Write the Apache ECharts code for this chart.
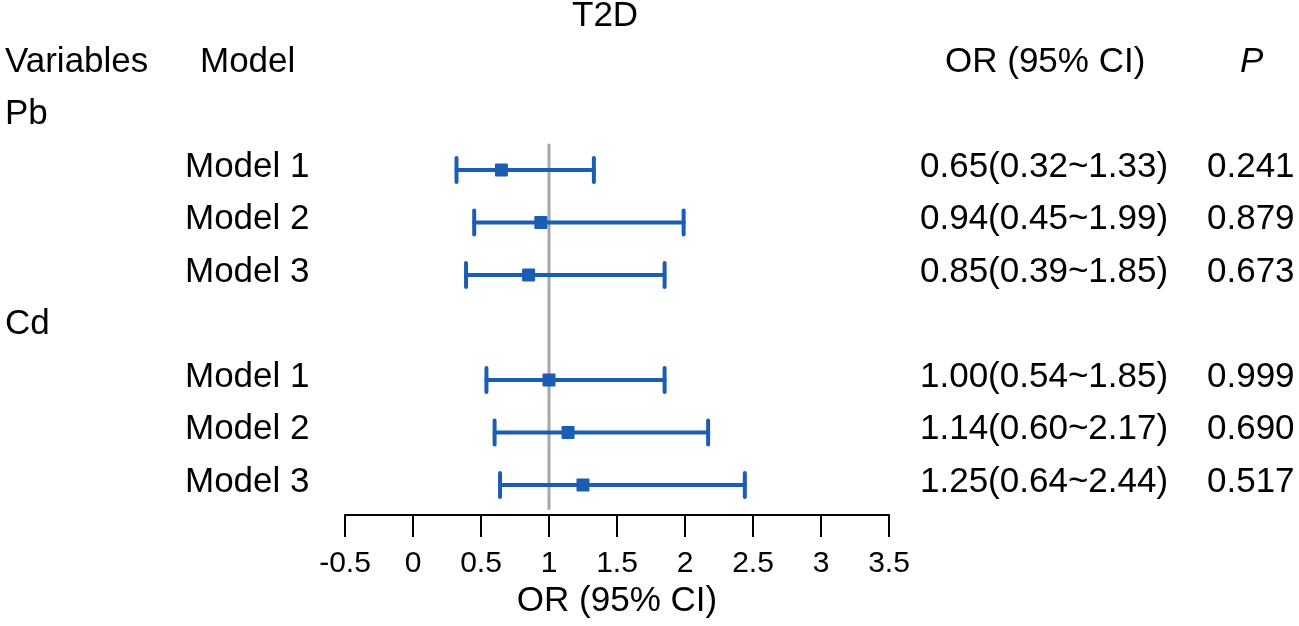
<!DOCTYPE html>
<html>
<head>
<meta charset="utf-8">
<script src="https://cdn.jsdelivr.net/npm/echarts@6/dist/echarts.min.js"></script>
<style>html,body{margin:0;padding:0;background:#fff;}#c{width:1299px;height:626px;}</style>
</head>
<body>
<div id="c"></div>
<script>
var variables = ['Pb', '', '', '', 'Cd', '', '', ''];
var models = ['', 'Model 1', 'Model 2', 'Model 3', '', 'Model 1', 'Model 2', 'Model 3'];
var orValues = [null, 0.65, 0.94, 0.85, null, 1.00, 1.14, 1.25];
var lowerCI = [null, 0.32, 0.45, 0.39, null, 0.54, 0.60, 0.64];
var upperCI = [null, 1.33, 1.99, 1.85, null, 1.85, 2.17, 2.44];
var pValues = ['', '0.241', '0.879', '0.673', '', '0.999', '0.690', '0.517'];
var xTicks = [-0.5, 0, 0.5, 1, 1.5, 2, 2.5, 3, 3.5];

var FONT = '"Liberation Sans", Arial, sans-serif';
var BLUE = '#1b5db3';

var ciData = [];
var textData = [];
for (var i = 0; i < models.length; i++) {
  var orText = orValues[i] == null ? '' :
    orValues[i].toFixed(2) + '(' + lowerCI[i].toFixed(2) + '~' + upperCI[i].toFixed(2) + ')';
  textData.push([0, i, variables[i], models[i], orText, pValues[i]]);
  if (orValues[i] != null) ciData.push([orValues[i], i, lowerCI[i], upperCI[i]]);
}
textData.push([0, -1, 'Variables', 'Model', 'OR (95% CI)', 'P']);

var chart = echarts.init(document.getElementById('c'), null, {renderer: 'canvas'});
chart.setOption({
  animation: false,
  title: {
    text: 'T2D', left: 567, top: -6,
    textStyle: {fontFamily: FONT, fontSize: 35, fontWeight: 'normal', color: '#000'}
  },
  grid: {left: 345, right: 410, top: 65, bottom: 111, containLabel: false, outerBoundsMode: 'none'},
  xAxis: {
    type: 'value', min: -0.5, max: 3.5, interval: 0.5,
    name: 'OR (95% CI)', nameLocation: 'middle', nameGap: 68,
    nameTextStyle: {fontFamily: FONT, fontSize: 35, color: '#000'},
    axisLine: {show: true, onZero: false, lineStyle: {color: '#000', width: 2}},
    axisTick: {show: true, inside: false, length: 22, lineStyle: {color: '#000', width: 2}},
    axisLabel: {fontFamily: FONT, fontSize: 30, color: '#000', margin: 34,
      formatter: function (v) { return String(v); }},
    splitLine: {show: false}
  },
  yAxis: {type: 'value', inverse: true, min: -1, max: 7.57, show: false},
  series: [
    {
      type: 'custom',
      clip: false,
      data: [[1, 0.5, 7.47]],
      renderItem: function (params, api) {
        var p1 = api.coord([api.value(0), api.value(1)]);
        var p2 = api.coord([api.value(0), api.value(2)]);
        return {type: 'line', shape: {x1: p1[0], y1: p1[1], x2: p2[0], y2: p2[1]},
          style: {stroke: '#a6a6a6', lineWidth: 3}};
      },
      z: 1
    },
    {
      type: 'custom',
      clip: false,
      data: ciData,
      renderItem: function (params, api) {
        var c = api.coord([api.value(0), api.value(1)]);
        var l = api.coord([api.value(2), api.value(1)]);
        var u = api.coord([api.value(3), api.value(1)]);
        var y = c[1], h = 12, s = 13;
        var st = {stroke: BLUE, lineWidth: 4, lineCap: 'round'};
        return {type: 'group', children: [
          {type: 'line', shape: {x1: l[0], y1: y, x2: u[0], y2: y}, style: st},
          {type: 'line', shape: {x1: l[0], y1: y - h, x2: l[0], y2: y + h}, style: st},
          {type: 'line', shape: {x1: u[0], y1: y - h, x2: u[0], y2: y + h}, style: st},
          {type: 'rect', shape: {x: c[0] - s / 2, y: y - s / 2, width: s, height: s, r: 1},
            style: {fill: BLUE}}
        ]};
      },
      z: 3
    },
    {
      type: 'custom',
      clip: false,
      data: textData,
      renderItem: function (params, api) {
        var y = api.coord([0, api.value(1)])[1] - 3;
        var isHeader = api.value(1) === -1;
        function txt(x, s, italic) {
          return {type: 'text', x: x, y: y, style: {
            text: s, fontFamily: FONT, fontSize: 35, fill: '#000',
            fontStyle: italic ? 'italic' : 'normal',
            textAlign: 'left', textVerticalAlign: 'middle'}};
        }
        return {type: 'group', children: [
          txt(5, api.value(2)),
          txt(isHeader ? 200 : 185, api.value(3)),
          txt(isHeader ? 945 : 920, api.value(4)),
          txt(isHeader ? 1240 : 1207, api.value(5), isHeader)
        ]};
      },
      z: 2
    }
  ]
});
</script>
</body>
</html>
